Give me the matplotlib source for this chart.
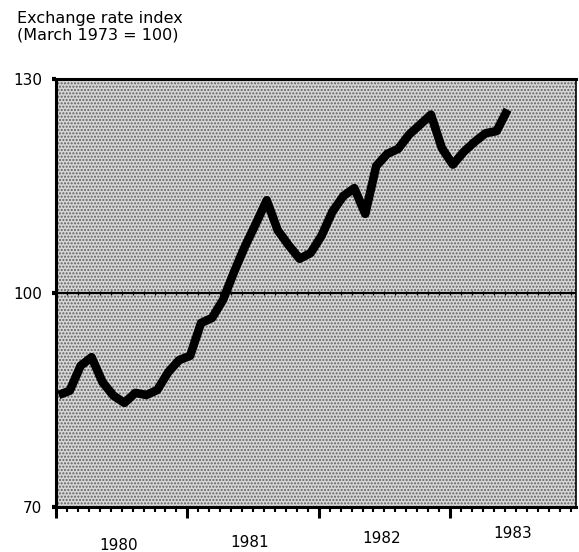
import matplotlib
matplotlib.use("Agg")
import matplotlib.pyplot as plt
from matplotlib.patches import Rectangle
from matplotlib.ticker import FixedLocator, MultipleLocator, NullFormatter
import numpy as np

# Monthly exchange rate index, Jan 1980 .. Jun 1983 (March 1973 = 100)
months_start = "1980-01"
index_values = [85.7, 86.3, 89.8, 91.0, 87.5, 85.6, 84.6, 86.0, 85.7, 86.4, 88.9, 90.6,
                91.2, 95.8, 96.5, 99.0, 102.9, 106.5, 109.7, 113.0, 108.8, 106.7, 104.8, 105.6,
                108.0, 111.4, 113.6, 114.7, 111.1, 117.8, 119.5, 120.2, 122.2, 123.6, 125.0, 120.3,
                118.0, 119.8, 121.2, 122.4, 122.7, 125.7]
year_labels = ["1980", "1981", "1982", "1983"]
y_ticks = [70, 100, 130]
reference_level = 100
title_text = "Exchange rate index\n(March 1973 = 100)"

plt.rcParams['font.family'] = ['DejaVu Sans']
plt.rcParams['hatch.linewidth'] = 1.0

fig = plt.figure(figsize=(5.79, 5.52), dpi=100)
ax = fig.add_axes([56/579, 1-507/552, (576-56)/579, (507-79)/552])

n = len(index_values)
x = np.arange(n) + 0.25  # months since Jan 1980

# stippled background
bg = Rectangle((0, 0), 1, 1, transform=ax.transAxes, facecolor='#d6d6d6',
               edgecolor='#606060', hatch='.....', lw=0, zorder=0)
ax.add_patch(bg)
ax.set_facecolor('white')

ax.axhline(reference_level, color='black', lw=1.6, zorder=2)
months_all = np.arange(0, 48)
ax.plot(months_all, np.full(len(months_all), reference_level), ls='none',
        marker='|', ms=3.5, mew=0.9, color='black', zorder=2)

ax.plot(x, index_values, color='black', lw=6.2, solid_joinstyle='round',
        solid_capstyle='butt', zorder=3)

ax.set_xlim(0, 47.5)
ax.set_ylim(70, 130)

for s in ['left', 'bottom', 'top']:
    ax.spines[s].set_linewidth(2.2)
ax.spines['right'].set_linewidth(1.2)

ax.xaxis.set_major_locator(FixedLocator([0, 12, 24, 36]))
ax.xaxis.set_minor_locator(MultipleLocator(1))
ax.xaxis.set_major_formatter(NullFormatter())
ax.tick_params(axis='x', which='major', direction='out', length=8, width=2.2)
ax.tick_params(axis='x', which='minor', direction='out', length=3.5, width=1.5)

ax.set_yticks(y_ticks)
ax.set_yticklabels([str(v) for v in y_ticks])
ax.tick_params(axis='y', which='major', direction='out', length=3, width=3,
               labelsize=11, pad=7)

year_y = [-0.090, -0.083, -0.074, -0.063]
for k, lab in enumerate(year_labels):
    ax.text(k*12 + 6 - 0.3, year_y[k], lab, transform=ax.get_xaxis_transform(),
            ha='center', va='center', fontsize=11)

fig.text(17/579, 1-11/552, title_text, ha='left', va='top', fontsize=11.5,
         linespacing=1.1)

fig.savefig("out.png", dpi=100)
